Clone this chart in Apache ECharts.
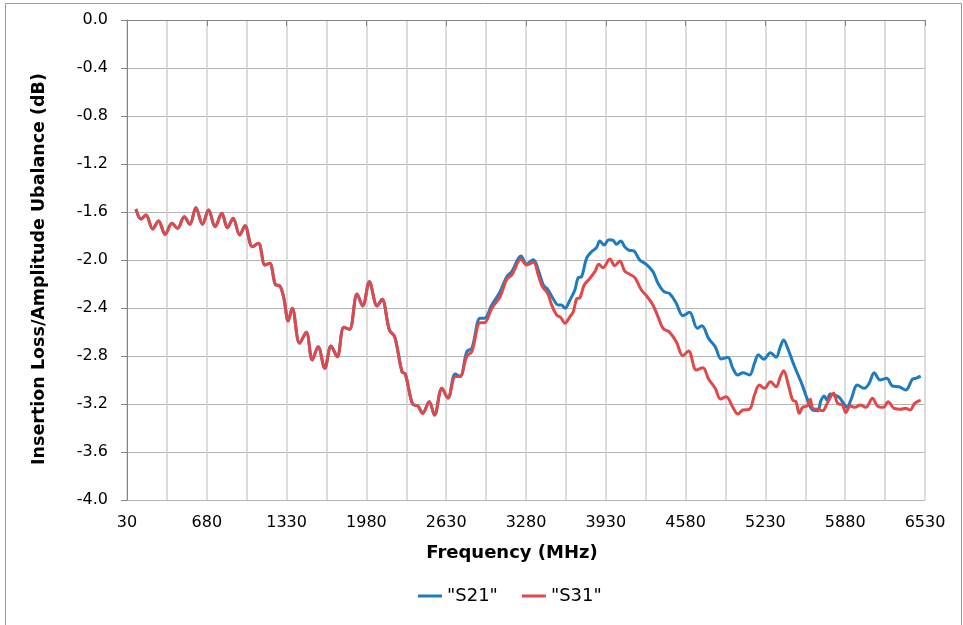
<!DOCTYPE html>
<html>
<head>
<meta charset="utf-8">
<script src="https://cdn.jsdelivr.net/npm/echarts@6/dist/echarts.min.js"></script>
<style>
  html, body { margin: 0; padding: 0; background: #ffffff; }
  #chart { width: 963px; height: 625px; }
</style>
</head>
<body>
<div id="chart"></div>
<script>
// Frequency axis runs 30 .. 6530 MHz
const X_START = 30;
const X_END = 6530;
const xTickStep = 650;
const yTicks = [0.0, -0.4, -0.8, -1.2, -1.6, -2.0, -2.4, -2.8, -3.2, -3.6, -4.0];

// Shared part of both curves (they coincide below ~2.65 GHz)
const commonFreq = [103,144,184,239,287,341,396,442,496,542,591,645,694,748,802,848,894,948,991,1051,1100,1154,1192,1241,1273,1308,1343,1376,1436,1490,1539,1587,1641,1692,1742,1796,1842,1904,1950,2004,2067,2107,2167,2210,2270,2297,2356,2400,2438,2492,2535,2595,2644];
const commonVal = [-1.575,-1.658,-1.625,-1.742,-1.675,-1.786,-1.694,-1.736,-1.639,-1.703,-1.564,-1.703,-1.583,-1.722,-1.611,-1.731,-1.653,-1.792,-1.714,-1.889,-1.861,-2.042,-2.028,-2.208,-2.214,-2.319,-2.508,-2.403,-2.694,-2.603,-2.833,-2.722,-2.903,-2.717,-2.806,-2.561,-2.578,-2.283,-2.383,-2.181,-2.383,-2.328,-2.583,-2.639,-2.931,-2.950,-3.200,-3.217,-3.278,-3.181,-3.292,-3.069,-3.150];

// "S21" after the split
const s21Freq = [2703,2744,2798,2839,2906,2941,3001,3069,3123,3164,3239,3285,3340,3380,3421,3461,3502,3543,3570,3597,3638,3678,3705,3732,3773,3814,3854,3881,3916,3954,3990,4017,4052,4084,4117,4160,4206,4260,4314,4355,4404,4450,4504,4558,4612,4675,4713,4767,4821,4870,4924,4965,5005,5046,5100,5141,5173,5217,5271,5317,5352,5379,5412,5452,5479,5525,5569,5607,5655,5682,5709,5731,5758,5791,5831,5866,5894,5926,5980,6034,6075,6116,6164,6218,6265,6319,6373,6427,6454,6495];
const s21Val = [-2.950,-2.970,-2.764,-2.736,-2.486,-2.486,-2.375,-2.264,-2.139,-2.097,-1.967,-2.033,-1.997,-2.083,-2.208,-2.250,-2.325,-2.375,-2.375,-2.403,-2.333,-2.250,-2.147,-2.140,-1.986,-1.931,-1.897,-1.842,-1.875,-1.831,-1.836,-1.869,-1.842,-1.889,-1.917,-1.925,-2.000,-2.036,-2.097,-2.194,-2.264,-2.280,-2.361,-2.464,-2.436,-2.569,-2.547,-2.653,-2.722,-2.825,-2.811,-2.903,-2.958,-2.939,-2.958,-2.861,-2.789,-2.828,-2.772,-2.811,-2.722,-2.667,-2.736,-2.847,-2.917,-3.028,-3.153,-3.244,-3.256,-3.172,-3.133,-3.167,-3.117,-3.125,-3.144,-3.194,-3.228,-3.167,-3.042,-3.069,-3.028,-2.939,-3.000,-2.986,-3.050,-3.056,-3.083,-2.994,-2.986,-2.967];

// "S31" after the split
const s31Freq = [2703,2744,2798,2839,2906,2941,3001,3069,3123,3164,3239,3285,3340,3380,3413,3456,3489,3529,3564,3597,3638,3665,3692,3719,3754,3800,3841,3873,3908,3963,4003,4044,4084,4125,4166,4220,4268,4314,4355,4396,4450,4504,4558,4604,4667,4721,4767,4821,4864,4910,4965,5005,5046,5100,5141,5181,5222,5271,5317,5352,5379,5417,5452,5479,5506,5533,5569,5596,5615,5655,5696,5736,5785,5818,5858,5885,5921,5959,6002,6048,6102,6143,6191,6229,6278,6332,6373,6408,6446,6495];
const s31Val = [-2.972,-2.970,-2.800,-2.764,-2.522,-2.522,-2.403,-2.306,-2.161,-2.125,-1.994,-2.042,-2.019,-2.125,-2.222,-2.278,-2.375,-2.458,-2.481,-2.528,-2.472,-2.431,-2.325,-2.314,-2.208,-2.153,-2.097,-2.036,-2.064,-1.992,-2.047,-2.008,-2.092,-2.119,-2.147,-2.250,-2.306,-2.375,-2.472,-2.569,-2.603,-2.681,-2.797,-2.758,-2.917,-2.897,-2.992,-3.069,-3.158,-3.140,-3.228,-3.283,-3.250,-3.244,-3.125,-3.042,-3.069,-3.014,-3.056,-2.972,-2.922,-3.042,-3.167,-3.181,-3.278,-3.228,-3.217,-3.161,-3.236,-3.244,-3.256,-3.189,-3.111,-3.194,-3.208,-3.272,-3.217,-3.228,-3.208,-3.228,-3.153,-3.217,-3.228,-3.181,-3.236,-3.244,-3.236,-3.250,-3.194,-3.167];

const seriesNames = ['"S21"', '"S31"'];
const seriesColors = ['#1f7bbf', '#e0484a'];

function toPoints(freqs, vals) {
  return freqs.map((f, i) => [f - X_START, vals[i]]);
}
const s21Data = toPoints(commonFreq.concat(s21Freq), commonVal.concat(s21Val));
const s31Data = toPoints(commonFreq.concat(s31Freq), commonVal.concat(s31Val));

const FONT = 'DejaVu Sans, Verdana, sans-serif';
const chart = echarts.init(document.getElementById('chart'), null, { renderer: 'canvas' });
chart.setOption({
  backgroundColor: '#ffffff',
  animation: false,
  graphic: [{
    type: 'rect', silent: true, z: -10,
    shape: { x: 5.5, y: 3.5, width: 956, height: 640 },
    style: { fill: 'none', stroke: '#9a9a9a', lineWidth: 1 }
  }],
  grid: { left: 127, right: 38, top: 20, bottom: 125, containLabel: false },
  legend: {
    data: seriesNames,
    bottom: 15,
    left: 413,
    icon: 'rect',
    itemWidth: 24,
    itemHeight: 3,
    itemGap: 24,
    textStyle: { fontFamily: FONT, fontSize: 18, color: '#000' }
  },
  xAxis: {
    type: 'value',
    min: 0,
    max: X_END - X_START,
    interval: xTickStep,
    name: 'Frequency (MHz)',
    nameLocation: 'middle',
    nameGap: 44,
    nameTextStyle: { fontFamily: FONT, fontSize: 18, fontWeight: 'bold', color: '#000', padding: [0, 28, 0, 0] },
    axisLine: { show: true, lineStyle: { color: '#868686', width: 1 } },
    axisTick: { show: true, inside: false, length: 6, lineStyle: { color: '#868686' } },
    axisLabel: {
      fontFamily: FONT, fontSize: 16, color: '#000', margin: 15,
      formatter: v => String(v + X_START)
    },
    splitLine: { show: true, lineStyle: { color: '#d0d0d0', width: 1.5 } },
    minorTick: { show: false, splitNumber: 2 },
    minorSplitLine: { show: true, lineStyle: { color: '#d0d0d0', width: 1.5 } }
  },
  yAxis: {
    type: 'value',
    min: yTicks[yTicks.length - 1],
    max: yTicks[0],
    interval: 0.4,
    name: 'Insertion Loss/Amplitude Ubalance (dB)',
    nameLocation: 'middle',
    nameGap: 79,
    nameTextStyle: { fontFamily: FONT, fontSize: 17.5, fontWeight: 'bold', color: '#000', padding: [0, 18, 0, 0] },
    axisLine: { show: true, lineStyle: { color: '#868686', width: 1 } },
    axisTick: { show: true, inside: false, length: 6, lineStyle: { color: '#868686' } },
    axisLabel: {
      fontFamily: FONT, fontSize: 16, color: '#000', margin: 19,
      formatter: v => v.toFixed(1)
    },
    splitLine: { show: true, lineStyle: { color: '#b4b4b4', width: 1 } }
  },
  series: [
    {
      name: seriesNames[0], type: 'line', data: s21Data, smooth: 0.35,
      symbol: 'none', lineStyle: { color: seriesColors[0], width: 3 },
      itemStyle: { color: seriesColors[0] }, z: 2
    },
    {
      name: seriesNames[1], type: 'line', data: s31Data, smooth: 0.35,
      symbol: 'none', lineStyle: { color: seriesColors[1], width: 3 },
      itemStyle: { color: seriesColors[1] }, z: 3
    }
  ]
});
</script>
</body>
</html>
